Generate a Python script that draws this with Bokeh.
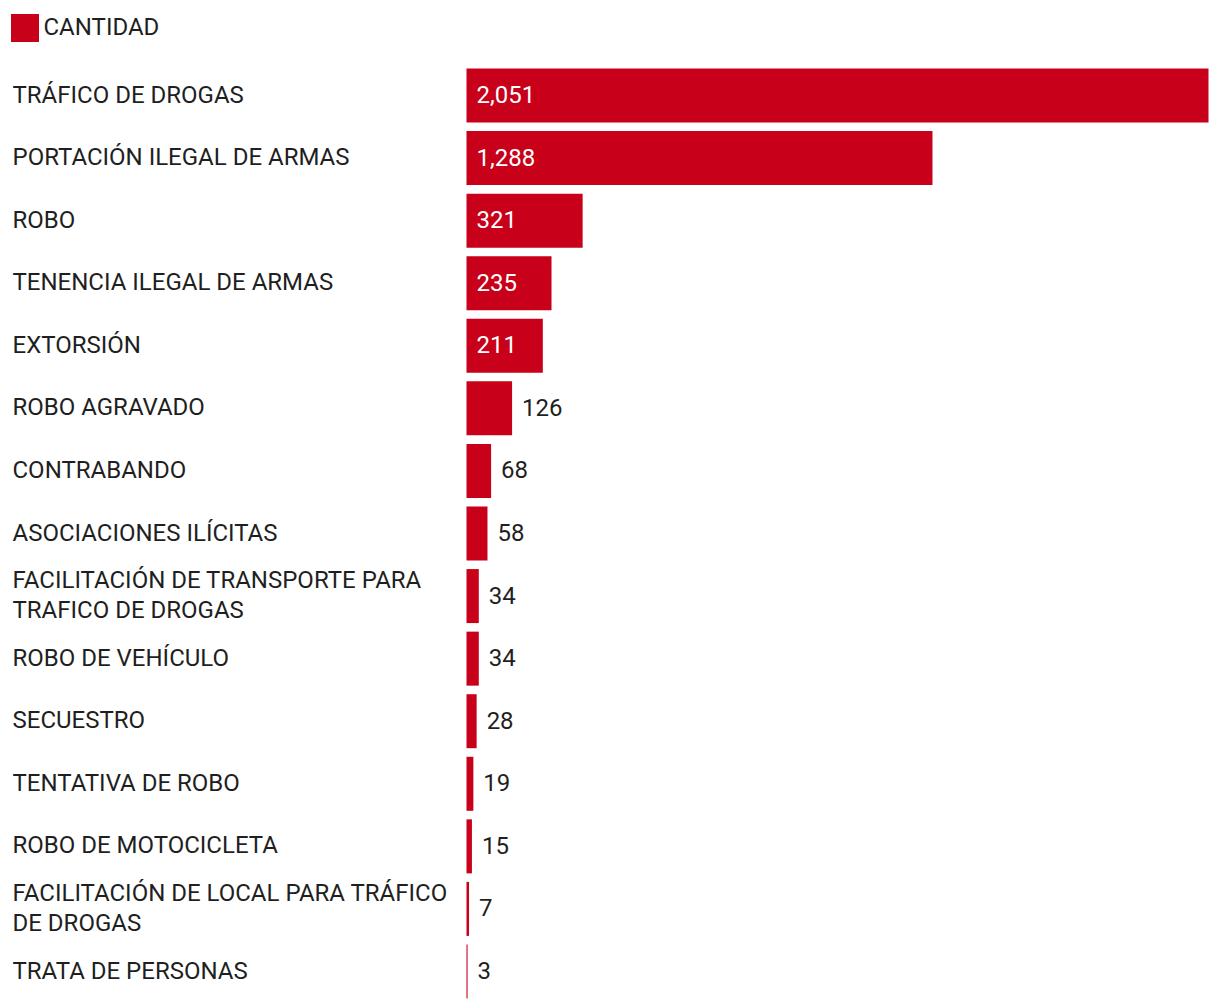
from bokeh.plotting import figure
from bokeh.models import ColumnDataSource, Range1d, Legend, LegendItem
from bokeh.core.properties import value
from bokeh.embed import file_html
from bokeh.resources import INLINE

categories = [
    "TRÁFICO DE DROGAS",
    "PORTACIÓN ILEGAL DE ARMAS",
    "ROBO",
    "TENENCIA ILEGAL DE ARMAS",
    "EXTORSIÓN",
    "ROBO AGRAVADO",
    "CONTRABANDO",
    "ASOCIACIONES ILÍCITAS",
    "FACILITACIÓN DE TRANSPORTE PARA\nTRAFICO DE DROGAS",
    "ROBO DE VEHÍCULO",
    "SECUESTRO",
    "TENTATIVA DE ROBO",
    "ROBO DE MOTOCICLETA",
    "FACILITACIÓN DE LOCAL PARA TRÁFICO\nDE DROGAS",
    "TRATA DE PERSONAS",
]
cantidad = [2051, 1288, 321, 235, 211, 126, 68, 58, 34, 34, 28, 19, 15, 7, 3]

RED = "#C8001A"
W, H = 1220, 1008
px_per_unit = 742 / 2051.0
x0_px = 466
x_start = -x0_px / px_per_unit
x_end = (W - x0_px) / px_per_unit

row_px = (971 - 95) / 14.0
y_top = -95 / row_px
y_bot = (H - 95) / row_px

idx = list(range(len(categories)))
inside = [v >= 200 for v in cantidad]
labels_txt = [f"{v:,}" for v in cantidad]

src = ColumnDataSource(dict(y=idx, v=cantidad, cat=categories, lab=labels_txt))
in_src = ColumnDataSource(dict(
    y=[i for i, f in zip(idx, inside) if f],
    v=[0 for f in inside if f],
    lab=[l for l, f in zip(labels_txt, inside) if f],
))
out_src = ColumnDataSource(dict(
    y=[i for i, f in zip(idx, inside) if not f],
    v=[c for c, f in zip(cantidad, inside) if not f],
    lab=[l for l, f in zip(labels_txt, inside) if not f],
))

p = figure(width=W, height=H, output_backend="svg", toolbar_location=None,
           x_range=Range1d(x_start, x_end), y_range=Range1d(y_bot, y_top),
           min_border=0, min_border_left=0, min_border_right=0,
           min_border_top=0, min_border_bottom=0)
p.axis.visible = False
p.grid.visible = False
p.outline_line_color = None
p.background_fill_color = "white"
p.border_fill_color = "white"

bars = p.hbar(y="y", left=0, right="v", height=54 / row_px, source=src,
              fill_color=RED, line_color=None)

FONT = value("Roboto")
FS = "24px"
p.text(x=x_start, y="y", text="cat", source=src, x_offset=12, y_offset=-1,
       text_font=FONT, text_font_size=FS, text_color="#1f1f1f",
       text_baseline="middle", text_align="left", text_line_height=1.07)
p.text(x="v", y="y", text="lab", source=in_src, x_offset=10, y_offset=-1,
       text_font=FONT, text_font_size=FS, text_color="white",
       text_baseline="middle", text_align="left")
p.text(x="v", y="y", text="lab", source=out_src, x_offset=10, y_offset=-1,
       text_font=FONT, text_font_size=FS, text_color="#1f1f1f",
       text_baseline="middle", text_align="left")

legend = Legend(items=[LegendItem(label="CANTIDAD", renderers=[bars])],
                location=(6.5, H - 9.5 - 35), orientation="horizontal",
                margin=0, padding=0, glyph_width=35, glyph_height=35,
                label_standoff=2, label_text_font="Roboto",
                label_text_font_size=FS, label_text_color="#1f1f1f",
                label_text_baseline="middle",
                border_line_color=None, background_fill_alpha=0)
p.add_layout(legend)

open("out.html", "w").write(file_html(p, INLINE))
